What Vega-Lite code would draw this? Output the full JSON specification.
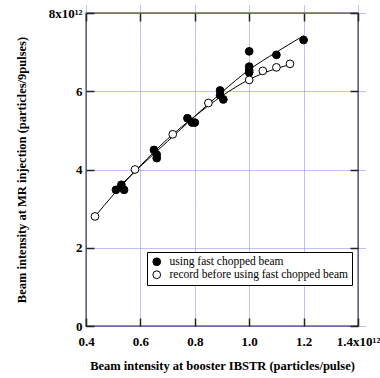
{
  "$schema": "https://vega.github.io/schema/vega-lite/v6.json",
  "width": 272,
  "height": 313,
  "autosize": {"type": "none"},
  "padding": {"left": 86, "top": 13, "right": 22, "bottom": 52},
  "background": "white",
  "config": {
    "view": {"stroke": "#222222", "strokeWidth": 1.3},
    "font": "Liberation Serif",
    "axis": {
      "labelFont": "Liberation Serif",
      "labelFontWeight": "bold",
      "labelFontSize": 13,
      "labelColor": "black",
      "titleFont": "Liberation Serif",
      "titleFontWeight": "bold",
      "titleFontSize": 12.5,
      "titleColor": "black",
      "domain": false,
      "tickColor": "#222222",
      "tickWidth": 1.5,
      "tickSize": 8,
      "offset": -8,
      "gridColor": "#8080ff",
      "gridDash": [1, 1],
      "gridWidth": 1,
      "gridOpacity": 1
    }
  },
  "datasets": {
    "pts": [
      {"x": 0.51, "y": 3.48, "s": "using fast chopped beam"},
      {"x": 0.53, "y": 3.61, "s": "using fast chopped beam"},
      {"x": 0.54, "y": 3.48, "s": "using fast chopped beam"},
      {"x": 0.65, "y": 4.50, "s": "using fast chopped beam"},
      {"x": 0.66, "y": 4.38, "s": "using fast chopped beam"},
      {"x": 0.66, "y": 4.29, "s": "using fast chopped beam"},
      {"x": 0.773, "y": 5.31, "s": "using fast chopped beam"},
      {"x": 0.79, "y": 5.20, "s": "using fast chopped beam"},
      {"x": 0.80, "y": 5.20, "s": "using fast chopped beam"},
      {"x": 0.893, "y": 6.02, "s": "using fast chopped beam"},
      {"x": 0.893, "y": 5.90, "s": "using fast chopped beam"},
      {"x": 0.905, "y": 5.79, "s": "using fast chopped beam"},
      {"x": 1.0, "y": 7.02, "s": "using fast chopped beam"},
      {"x": 1.0, "y": 6.63, "s": "using fast chopped beam"},
      {"x": 1.0, "y": 6.54, "s": "using fast chopped beam"},
      {"x": 1.0, "y": 6.48, "s": "using fast chopped beam"},
      {"x": 1.10, "y": 6.93, "s": "using fast chopped beam"},
      {"x": 1.20, "y": 7.31, "s": "using fast chopped beam"},
      {"x": 0.433, "y": 2.80, "s": "record before using fast chopped beam"},
      {"x": 0.58, "y": 4.0, "s": "record before using fast chopped beam"},
      {"x": 0.719, "y": 4.90, "s": "record before using fast chopped beam"},
      {"x": 0.85, "y": 5.70, "s": "record before using fast chopped beam"},
      {"x": 1.0, "y": 6.29, "s": "record before using fast chopped beam"},
      {"x": 1.05, "y": 6.52, "s": "record before using fast chopped beam"},
      {"x": 1.10, "y": 6.61, "s": "record before using fast chopped beam"},
      {"x": 1.15, "y": 6.70, "s": "record before using fast chopped beam"}
    ],
    "fit": [
      {"x": 0.52, "y": 3.55, "s": "a"},
      {"x": 0.6, "y": 4.08, "s": "a"},
      {"x": 0.7, "y": 4.72, "s": "a"},
      {"x": 0.8, "y": 5.36, "s": "a"},
      {"x": 0.9, "y": 5.98, "s": "a"},
      {"x": 1.0, "y": 6.55, "s": "a"},
      {"x": 1.1, "y": 7.0, "s": "a"},
      {"x": 1.2, "y": 7.42, "s": "a"},
      {"x": 0.433, "y": 2.80, "s": "b"},
      {"x": 0.5, "y": 3.35, "s": "b"},
      {"x": 0.6, "y": 4.1, "s": "b"},
      {"x": 0.7, "y": 4.78, "s": "b"},
      {"x": 0.8, "y": 5.36, "s": "b"},
      {"x": 0.9, "y": 5.88, "s": "b"},
      {"x": 1.0, "y": 6.3, "s": "b"},
      {"x": 1.1, "y": 6.58, "s": "b"},
      {"x": 1.15, "y": 6.68, "s": "b"}
    ]
  },
  "layer": [
    {
      "data": {"name": "fit"},
      "mark": {"type": "line", "color": "black", "strokeWidth": 1, "interpolate": "monotone"},
      "encoding": {
        "x": {"field": "x", "type": "quantitative",
          "scale": {"domain": [0.4, 1.4], "nice": false, "zero": false},
          "axis": {"orient": "bottom", "values": [0.4, 0.6, 0.8, 1.0, 1.2, 1.4],
            "labelExpr": "datum.value > 1.35 ? '1.4x10¹²' : format(datum.value, '.1f')",
            "labelPadding": 9, "labelBaseline": "top", "labelFlush": false,
            "title": "Beam intensity at booster IBSTR (particles/pulse)", "titlePadding": 11}},
        "y": {"field": "y", "type": "quantitative",
          "scale": {"domain": [0, 8], "nice": false},
          "axis": {"orient": "left", "values": [0, 2, 4, 6, 8],
            "labelExpr": "datum.value > 7.5 ? '8x10¹²' : format(datum.value, 'd')",
            "labelPadding": 4, "labelFlush": false,
            "title": "Beam intensity at MR injection (particles/9pulses)", "titlePadding": 20}},
        "detail": {"field": "s"}
      }
    },
    {
      "data": {"name": "pts"},
      "mark": {"type": "point", "filled": true, "shape": "circle", "size": 60, "stroke": "black", "strokeWidth": 1, "opacity": 1},
      "encoding": {
        "x": {"field": "x", "type": "quantitative",
          "axis": {"orient": "top", "values": [0.4, 0.6, 0.8, 1.0, 1.2, 1.4], "labels": false, "title": null, "grid": false}},
        "y": {"field": "y", "type": "quantitative",
          "axis": {"orient": "right", "values": [0, 2, 4, 6, 8], "labels": false, "title": null, "grid": false}},
        "fill": {"field": "s", "type": "nominal",
          "scale": {"domain": ["using fast chopped beam", "record before using fast chopped beam"], "range": ["black", "white"]},
          "legend": {"title": null, "orient": "none", "legendX": 61, "legendY": 239,
            "strokeColor": "black", "padding": 4, "fillColor": "white",
            "labelFont": "Liberation Serif", "labelFontSize": 11.5, "labelColor": "black",
            "symbolStrokeColor": "black", "symbolStrokeWidth": 1, "symbolSize": 60, "rowPadding": 0, "labelOffset": 7, "labelLimit": 300}}
      }
    }
  ],
  "resolve": {"axis": {"x": "independent", "y": "independent"}}
}
